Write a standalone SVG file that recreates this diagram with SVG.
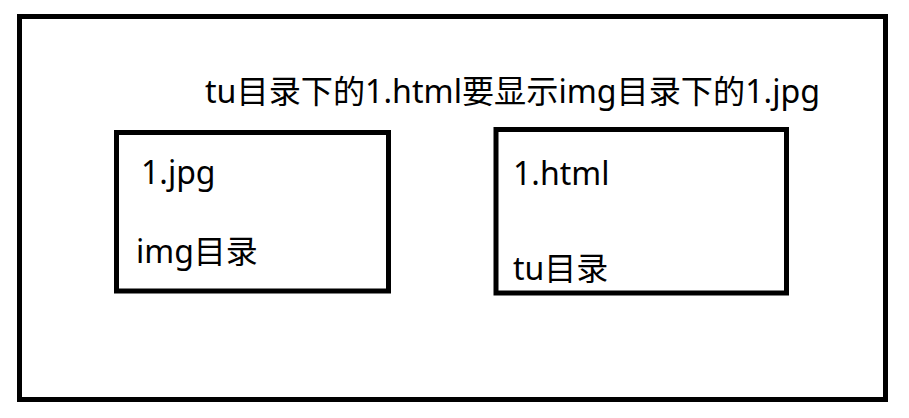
<svg xmlns="http://www.w3.org/2000/svg" width="909" height="418" viewBox="0 0 909 418">
  <style>
    .box { fill: none; stroke: #000; stroke-width: 5; }
    .lbl { font-family: "Noto Sans", "Noto Sans CJK SC", sans-serif; font-size: 32px; fill: #000; }
  </style>
  <rect x="0" y="0" width="909" height="418" fill="#fff"/>
  <g id="container">
    <rect class="box" x="19.5" y="16.5" width="866" height="383"/>
    <text class="lbl" x="205" y="103" textLength="615" lengthAdjust="spacingAndGlyphs">tu目录下的1.html要显示img目录下的1.jpg</text>
  </g>
  <g id="img-dir">
    <rect class="box" x="116.5" y="132.5" width="272" height="158.5"/>
    <text class="lbl" x="141" y="183.5">1.jpg</text>
    <text class="lbl" x="136" y="263">img目录</text>
  </g>
  <g id="tu-dir">
    <rect class="box" x="496" y="129.5" width="290.5" height="163.5"/>
    <text class="lbl" x="513" y="184.5">1.html</text>
    <text class="lbl" x="513" y="280">tu目录</text>
  </g>
  <g id="connectors"/>
</svg>
